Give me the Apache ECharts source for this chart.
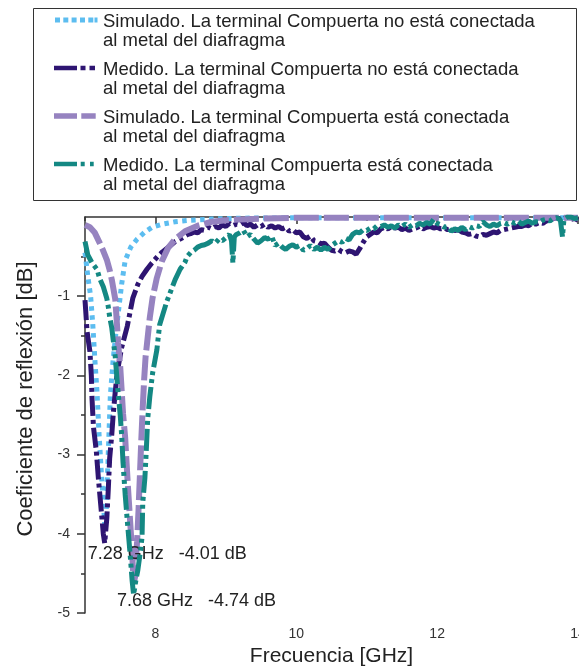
<!DOCTYPE html>
<html>
<head>
    <meta charset="utf-8">
    <title>Coeficiente de reflexion</title>
    <script src="https://cdn.jsdelivr.net/npm/echarts@6.0.0/dist/echarts.min.js"></script>
    <style>
        html, body { margin: 0; padding: 0; background: #fff; }
        #chart { width: 579px; height: 669px; }
    </style>
</head>
<body>
<div id="chart"></div>
<script>
    // nombres de las series (leyenda)
    var names = [
        'Simulado. La terminal Compuerta no está conectada\nal metal del diafragma',
        'Medido. La terminal Compuerta no está conectada\nal metal del diafragma',
        'Simulado. La terminal Compuerta está conectada\nal metal del diafragma',
        'Medido. La terminal Compuerta está conectada\nal metal del diafragma'
    ];
    var colors = ['#5cbdf0', '#2e1572', '#9683c0', '#148883'];

    var xTicks = [8, 10, 12, 14];
    var xMinor = [7, 9, 11, 13];
    var yTicks = [-5, -4, -3, -2, -1];
    var yMinor = [-4.5, -3.5, -2.5, -1.5, -0.5];

    // [GHz, dB]
    var simOff = [[7.0,-0.45],[7.04,-0.75],[7.08,-1.0],[7.11,-1.35],[7.14,-1.8],[7.17,-2.2],[7.2,-2.75],[7.23,-3.2],
        [7.26,-3.6],[7.28,-3.88],[7.3,-3.75],[7.32,-3.25],[7.34,-2.75],[7.36,-2.25],[7.4,-1.8],[7.44,-1.45],[7.47,-1.23],
        [7.52,-0.85],[7.57,-0.55],[7.65,-0.38],[7.74,-0.28],[7.85,-0.19],[7.95,-0.13],[8.1,-0.09],[8.28,-0.06],[8.5,-0.04],
        [8.8,-0.025],[9.2,-0.015],[10,-0.01],[11,-0.01],[12,-0.01],[13,-0.01],[14,-0.01]];

    var measOff = [[7.0,-1.05],[7.03,-1.45],[7.07,-1.7],[7.09,-2.0],[7.1,-2.3],[7.12,-2.65],[7.16,-2.95],[7.19,-3.3],
        [7.23,-3.7],[7.26,-4.0],[7.28,-4.12],[7.31,-3.8],[7.33,-3.45],[7.35,-3.05],[7.38,-2.75],[7.4,-2.5],[7.43,-2.2],
        [7.46,-1.95],[7.52,-1.65],[7.6,-1.38],[7.68,-1.02],[7.75,-0.85],[7.81,-0.75],[7.88,-0.66],[7.95,-0.58],[8.03,-0.5],
        [8.1,-0.44],[8.2,-0.37],[8.28,-0.31],[8.37,-0.27],[8.46,-0.22],
        [8.50,-0.21],[8.55,-0.19],[8.60,-0.2],[8.65,-0.16],[8.70,-0.17],[8.75,-0.13],[8.80,-0.15],[8.85,-0.12],[8.90,-0.14],
        [8.95,-0.1],[9.00,-0.12],[9.05,-0.08],[9.10,-0.11],[9.15,-0.09],[9.20,-0.1],[9.25,-0.07],[9.30,-0.11],[9.35,-0.09],
        [9.40,-0.13],[9.45,-0.1],[9.50,-0.12],[9.55,-0.09],[9.60,-0.13],[9.65,-0.11],[9.70,-0.14],[9.75,-0.12],[9.80,-0.15],
        [9.85,-0.13],[9.90,-0.18],[9.95,-0.16],[10.00,-0.2],[10.05,-0.19],[10.10,-0.25],[10.15,-0.27],[10.20,-0.24],
        [10.25,-0.3],[10.30,-0.31],[10.35,-0.34],[10.40,-0.33],[10.45,-0.38],[10.50,-0.42],[10.55,-0.43],[10.60,-0.41],
        [10.65,-0.44],[10.70,-0.45],[10.75,-0.43],[10.80,-0.44],[10.85,-0.47],[10.90,-0.4],[10.95,-0.32],[11.00,-0.25],
        [11.05,-0.22],[11.10,-0.19],[11.15,-0.2],[11.20,-0.15],[11.25,-0.13],[11.30,-0.15],[11.35,-0.12],[11.40,-0.14],
        [11.45,-0.13],[11.50,-0.16],[11.55,-0.14],[11.60,-0.17],[11.65,-0.15],[11.70,-0.14],[11.75,-0.12],[11.80,-0.15],
        [11.85,-0.13],[11.90,-0.12],[11.95,-0.14],[12.00,-0.13],[12.05,-0.15],[12.10,-0.14],[12.15,-0.16],[12.20,-0.15],
        [12.25,-0.17],[12.30,-0.16],[12.35,-0.19],[12.40,-0.2],[12.45,-0.22],[12.50,-0.21],[12.55,-0.24],[12.60,-0.25],
        [12.65,-0.22],[12.70,-0.23],[12.75,-0.21],[12.80,-0.19],[12.85,-0.2],[12.90,-0.17],[12.95,-0.16],[13.00,-0.15],
        [13.05,-0.14],[13.10,-0.13],[13.15,-0.12],[13.20,-0.12],[13.25,-0.1],[13.30,-0.11],[13.35,-0.08],[13.40,-0.09],
        [13.45,-0.07],[13.50,-0.08],[13.55,-0.05],[13.60,-0.04],[13.65,-0.02],[13.70,-0.01],[13.75,-0.03],[13.80,-0.02],
        [13.85,0.0],[13.90,-0.03],[13.95,-0.02],[14.00,-0.04]];

    var simOn = [[7.0,-0.1],[7.07,-0.13],[7.14,-0.2],[7.21,-0.33],[7.26,-0.43],[7.31,-0.54],[7.35,-0.67],[7.38,-0.79],
        [7.43,-1.04],[7.45,-1.3],[7.47,-1.59],[7.5,-1.89],[7.52,-2.18],[7.54,-2.48],[7.57,-2.78],[7.59,-3.1],[7.61,-3.41],
        [7.64,-3.83],[7.67,-4.25],[7.69,-4.62],[7.71,-4.55],[7.72,-4.35],[7.74,-4.1],[7.76,-3.7],[7.78,-3.25],[7.80,-2.8],
        [7.82,-2.4],[7.84,-2.05],[7.86,-1.77],[7.89,-1.52],[7.92,-1.27],[7.96,-1.02],[8.02,-0.77],[8.09,-0.56],[8.18,-0.39],
        [8.28,-0.28],[8.42,-0.18],[8.6,-0.11],[8.8,-0.06],[9.0,-0.04],[9.5,-0.02],[10.0,-0.01],[11,-0.01],[12,-0.01],
        [13,-0.01],[14,-0.01]];

    var measOn = [[7.0,-0.31],[7.04,-0.48],[7.1,-0.58],[7.17,-0.66],[7.21,-0.78],[7.26,-0.88],[7.31,-1.03],[7.33,-1.13],
        [7.35,-1.26],[7.38,-1.4],[7.4,-1.55],[7.43,-1.77],[7.45,-2.0],[7.47,-2.22],[7.5,-2.5],[7.52,-2.75],[7.54,-3.1],
        [7.57,-3.5],[7.6,-3.83],[7.64,-4.25],[7.67,-4.6],[7.69,-4.77],[7.72,-4.6],[7.75,-4.46],[7.79,-4.2],[7.81,-4.04],
        [7.82,-3.61],[7.85,-3.3],[7.87,-2.95],[7.89,-2.55],[7.92,-2.27],[7.96,-1.97],[8.02,-1.68],[8.06,-1.36],[8.16,-1.07],
        [8.28,-0.79],[8.35,-0.66],[8.42,-0.57],
        [8.45,-0.5],[8.50,-0.45],[8.55,-0.42],[8.60,-0.38],[8.65,-0.36],[8.70,-0.35],[8.75,-0.33],[8.80,-0.3],[8.85,-0.33],
        [8.90,-0.28],[8.95,-0.3],[9.00,-0.26],[9.05,-0.22],[9.08,-0.3],[9.10,-0.58],[9.12,-0.25],[9.15,-0.22],[9.20,-0.2],
        [9.25,-0.17],[9.30,-0.25],[9.35,-0.22],[9.40,-0.28],[9.45,-0.33],[9.50,-0.3],[9.55,-0.26],[9.60,-0.28],[9.65,-0.24],
        [9.70,-0.36],[9.75,-0.33],[9.80,-0.38],[9.85,-0.41],[9.90,-0.37],[9.95,-0.35],[10.00,-0.38],[10.05,-0.36],
        [10.10,-0.42],[10.15,-0.4],[10.20,-0.36],[10.25,-0.41],[10.30,-0.38],[10.35,-0.42],[10.40,-0.38],[10.45,-0.41],
        [10.50,-0.36],[10.55,-0.33],[10.60,-0.3],[10.65,-0.32],[10.70,-0.27],[10.75,-0.29],[10.80,-0.22],[10.85,-0.19],
        [10.90,-0.2],[10.95,-0.16],[11.00,-0.17],[11.05,-0.14],[11.10,-0.15],[11.15,-0.11],[11.20,-0.12],[11.25,-0.1],
        [11.30,-0.13],[11.35,-0.11],[11.40,-0.14],[11.45,-0.1],[11.50,-0.12],[11.55,-0.09],[11.60,-0.13],[11.65,-0.1],
        [11.70,-0.11],[11.75,-0.08],[11.80,-0.1],[11.85,-0.07],[11.90,-0.09],[11.95,-0.03],[12.00,-0.08],[12.05,-0.1],
        [12.10,-0.13],[12.15,-0.12],[12.20,-0.18],[12.25,-0.15],[12.30,-0.17],[12.35,-0.13],[12.40,-0.16],[12.45,-0.12],
        [12.50,-0.14],[12.55,-0.11],[12.60,-0.12],[12.65,-0.06],[12.70,-0.1],[12.75,-0.12],[12.80,-0.09],[12.85,-0.11],
        [12.90,-0.08],[12.95,-0.07],[13.00,-0.09],[13.05,-0.06],[13.10,-0.08],[13.15,-0.05],[13.20,-0.09],[13.25,-0.07],
        [13.30,-0.05],[13.35,-0.08],[13.40,-0.06],[13.45,-0.07],[13.50,-0.04],[13.55,-0.03],[13.60,-0.05],[13.65,-0.02],
        [13.70,-0.01],[13.75,-0.04],[13.78,-0.25],[13.80,-0.03],[13.85,0.0],[13.90,0.0],[13.95,-0.02],[14.00,-0.01]];

    // anotaciones de los minimos
    var minOff = [7.28, -4.01];
    var minOn = [7.68, -4.74];

    var font = "'Liberation Sans', Arial, sans-serif";
    var corner = 'M0 0h0.01v0.01h-0.01zM43.99 37.99h0.01v0.01h-0.01z';
    var icons = [
        'path://' + corner + 'M1 5.5h5v5h-5zM9.3 5.5h5v5h-5zM17.6 5.5h5v5h-5zM26 5.5h5v5h-5zM34.3 5.5h5v5h-5zM40.5 5.5h3v5h-3z',
        'path://' + corner + 'M0 5.8h23v4.5h-23zM26.5 5.8h5v4.5h-5zM35.5 5.8h5.5v4.5h-5.5z',
        'path://' + corner + 'M0 5.3h23v5.5h-23zM27.3 5.3h14.4v5.5h-14.4z',
        'path://' + corner + 'M0 5.8h23v4.5h-23zM26.7 5.8h4v4.5h-4zM36 5.8h3.7v4.5h-3.7z'
    ];
    var dashes = [[4.5, 4.5], [20, 4, 4, 4], [25, 5], [22, 4, 4, 4, 4, 4]];
    var widths = [5, 5, 6, 5];
    var seriesData = [simOff, measOff, simOn, measOn];

    function annot(pt, dx, dy) {
        return {
            coord: pt,
            symbol: 'circle',
            symbolSize: 1,
            itemStyle: { color: 'rgba(0,0,0,0)' },
            label: {
                show: true,
                position: 'inside',
                align: 'left',
                verticalAlign: 'middle',
                offset: [dx, dy],
                fontFamily: font,
                fontSize: 18,
                color: '#222',
                formatter: pt[0].toFixed(2) + ' GHz   ' + pt[1].toFixed(2) + ' dB'
            }
        };
    }

    var series = [];
    for (var i = 0; i < 4; i++) {
        series.push({
            name: names[i],
            type: 'line',
            xAxisIndex: 0,
            yAxisIndex: 0,
            data: seriesData[i],
            symbol: 'none',
            showSymbol: false,
            color: colors[i],
            lineStyle: { color: colors[i], width: widths[i], type: dashes[i], cap: 'butt' },
            emphasis: { disabled: true },
            z: 2 + i
        });
    }
    series[1].markPoint = { silent: true, data: [annot(minOff, -17, 19)] };
    series[3].markPoint = { silent: true, data: [annot(minOn, -16, 9)] };

    var legendData = [];
    for (var j = 0; j < 4; j++) {
        legendData.push({ name: names[j], icon: icons[j], itemStyle: { color: colors[j], borderWidth: 0 } });
    }

    var option = {
        animation: false,
        backgroundColor: '#fff',
        textStyle: { fontFamily: font },
        legend: {
            data: legendData,
            orient: 'vertical',
            left: 54,
            top: 12,
            padding: 0,
            itemGap: 10,
            itemWidth: 44,
            itemHeight: 38,
            selectedMode: false,
            itemStyle: { borderWidth: 0 },
            textStyle: { fontFamily: font, fontSize: 18.5, lineHeight: 19, color: '#222' }
        },
        graphic: [{
            type: 'rect',
            shape: { x: 33.5, y: 8.5, width: 543, height: 192 },
            style: { fill: 'none', stroke: '#333', lineWidth: 1 },
            silent: true
        }],
        grid: [
            { left: 85, right: 1, top: 217, bottom: 56, outerBoundsMode: 'none' },
            { left: 85, right: 1, top: 217, bottom: 56, outerBoundsMode: 'none' }
        ],
        xAxis: [{
            type: 'value',
            gridIndex: 0,
            min: 7,
            max: 14,
            interval: 1,
            name: 'Frecuencia [GHz]',
            nameLocation: 'middle',
            nameGap: 32,
            nameTextStyle: { fontFamily: font, fontSize: 21, color: '#222' },
            axisLine: { lineStyle: { color: '#333', width: 1.5 } },
            axisTick: { customValues: xTicks, length: 7, lineStyle: { color: '#333', width: 1.5 } },
            axisLabel: { customValues: xTicks, margin: 14, fontFamily: font, fontSize: 14, color: '#333' },
            splitLine: { show: false }
        }, {
            type: 'value',
            gridIndex: 1,
            min: 7,
            max: 14,
            interval: 1,
            axisLine: { show: false },
            axisTick: { customValues: xMinor, length: 4, lineStyle: { color: '#333', width: 1.5 } },
            axisLabel: { show: false },
            splitLine: { show: false }
        }],
        yAxis: [{
            type: 'value',
            gridIndex: 0,
            min: -5,
            max: 0,
            interval: 1,
            name: 'Coeficiente de reflexión [dB]',
            nameLocation: 'middle',
            nameGap: 48,
            nameTextStyle: { fontFamily: font, fontSize: 22, color: '#222', padding: [0, 0, 0, 32] },
            axisLine: { show: true, lineStyle: { color: '#333', width: 1.5 } },
            axisTick: { show: true, customValues: yTicks, length: 8, lineStyle: { color: '#333', width: 1.5 } },
            axisLabel: { customValues: yTicks, margin: 15, fontFamily: font, fontSize: 14, color: '#333' },
            splitLine: { show: false }
        }, {
            type: 'value',
            gridIndex: 1,
            min: -5,
            max: 0,
            interval: 1,
            axisLine: { show: false },
            axisTick: { show: true, customValues: yMinor, length: 4, lineStyle: { color: '#333', width: 1.5 } },
            axisLabel: { show: false },
            splitLine: { show: false }
        }],
        series: series
    };

    var myChart = echarts.init(document.getElementById('chart'));
    myChart.setOption(option);
</script>
</body>
</html>
